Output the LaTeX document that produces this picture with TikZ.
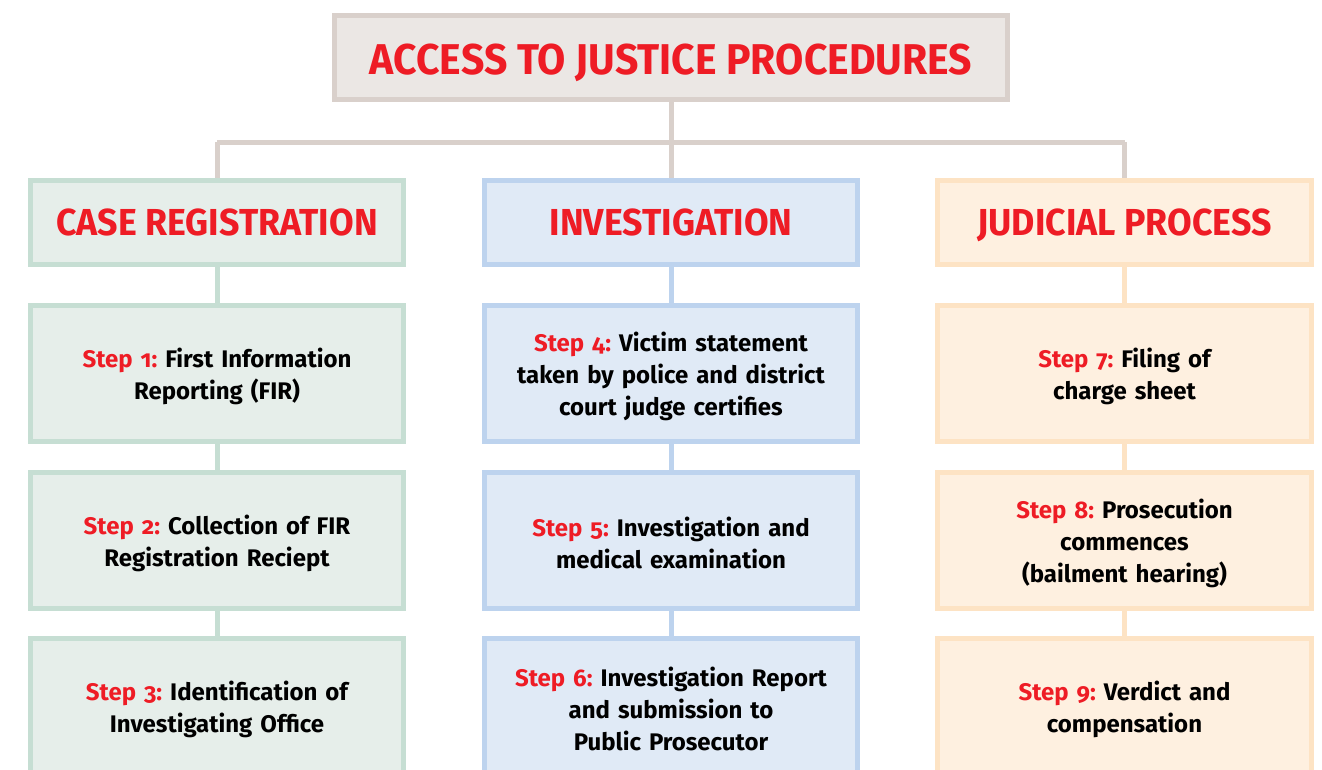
\documentclass[tikz,border=0pt]{standalone}
\usepackage{fontspec}
\setmainfont{Fira Sans}[Numbers=OldStyle]
\newfontfamily\headfont{Fira Sans}[FakeStretch=0.95]
\definecolor{redtxt}{HTML}{EE1C25}
\definecolor{titlebd}{HTML}{D9D0CB}
\definecolor{titlefill}{HTML}{EBE7E4}
\definecolor{grnbd}{HTML}{C6DED3}
\definecolor{grnfill}{HTML}{E6EEEA}
\definecolor{blubd}{HTML}{BDD3EE}
\definecolor{blufill}{HTML}{E0EAF6}
\definecolor{orgbd}{HTML}{FDE3C4}
\definecolor{orgfill}{HTML}{FEF0E0}
\tikzset{
  box/.style={draw, line width=3.75pt, minimum width=280pt, inner sep=0pt, align=center},
  titlebox/.style={box, draw=titlebd, fill=titlefill, minimum width=504.75pt, minimum height=63pt,
     text height=30pt, text depth=5.2pt,
     font=\headfont\bfseries\fontsize{32.3}{38}\selectfont, text=redtxt},
  headbox/.style={box, minimum height=63pt, text height=25pt, text depth=5.7pt,
     font=\headfont\bfseries\fontsize{28.2}{33}\selectfont, text=redtxt},
  stepbox/.style={box, minimum height=102pt, text width=270pt, font=\frenchspacing\bfseries\fontsize{18}{24}\selectfont},
  grn/.style={draw=grnbd, fill=grnfill},
  blu/.style={draw=blubd, fill=blufill},
  org/.style={draw=orgbd, fill=orgfill},
  link/.style={line width=3.75pt},
}
\newcommand{\stp}[1]{\rule{0pt}{18.5pt}\textcolor{redtxt}{Step #1:}}
\begin{document}
\begin{tikzpicture}[x=0.75pt,y=-0.75pt]
\useasboundingbox (0,0) rectangle (1322,769);
\clip (0,0) rectangle (1322,769);
\fill[white] (0,0) rectangle (1322,769);
% title
\node[titlebox] (title) at (671,57.5) {ACCESS TO JUSTICE PROCEDURES};
\coordinate (hub) at (671,142);
\coordinate (hl) at (217,142);
\coordinate (hr) at (1124.5,142);
% headers
\node[headbox,grn] (h1) at (217,222.5) {CASE REGISTRATION};
\node[headbox,blu] (h2) at (671,222.5) {INVESTIGATION};
\node[headbox,org] (h3) at (1124.5,222.5) {JUDICIAL PROCESS};
% steps
\node[stepbox,grn] (s1) at (217,373.5) {\stp{1} First Information\\Reporting (FIR)};
\node[stepbox,grn] (s2) at (217,540.5) {\stp{2} Collection of FIR\\Registration Reciept};
\node[stepbox,grn] (s3) at (217,706.5) {\stp{3} Identification of\\Investigating Office};
\node[stepbox,blu] (s4) at (671,373.5) {\stp{4} Victim statement\\taken by police and district\\court judge certifies};
\node[stepbox,blu] (s5) at (671,540.5) {\stp{5} Investigation and\\medical examination};
\node[stepbox,blu] (s6) at (671,706.5) {\stp{6} Investigation Report\\and submission to\\Public Prosecutor};
\node[stepbox,org] (s7) at (1124.5,373.5) {\stp{7} Filing of\\charge sheet};
\node[stepbox,org] (s8) at (1124.5,540.5) {\stp{8} Prosecution\\commences\\(bailment hearing)};
\node[stepbox,org] (s9) at (1124.5,706.5) {\stp{9} Verdict and\\compensation};
% connectors
\draw[link,titlebd] (title.south) -- (hub);
\draw[link,titlebd] (hl) -- (hr);
\draw[link,titlebd] (hub) -- (h2.north);
\draw[link,titlebd] (hl) -- (h1.north);
\draw[link,titlebd] (hr) -- (h3.north);
\draw[link,grnbd] (h1.south) -- (s1.north);
\draw[link,grnbd] (s1.south) -- (s2.north);
\draw[link,grnbd] (s2.south) -- (s3.north);
\draw[link,blubd] (h2.south) -- (s4.north);
\draw[link,blubd] (s4.south) -- (s5.north);
\draw[link,blubd] (s5.south) -- (s6.north);
\draw[link,orgbd] (h3.south) -- (s7.north);
\draw[link,orgbd] (s7.south) -- (s8.north);
\draw[link,orgbd] (s8.south) -- (s9.north);
\end{tikzpicture}
\end{document}
